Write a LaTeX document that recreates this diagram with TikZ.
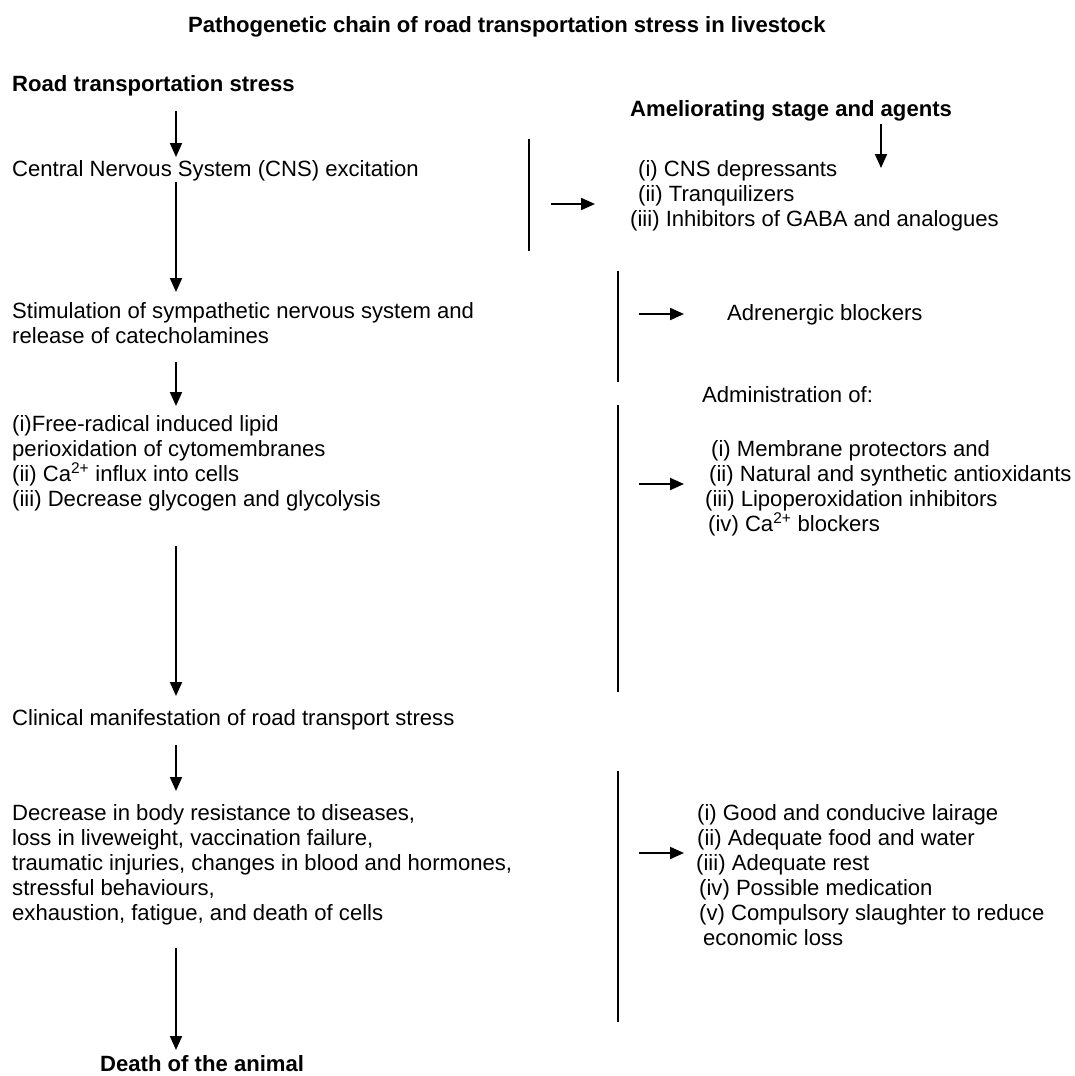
\documentclass[tikz,border=0pt]{standalone}
\usepackage{fontspec}
\setmainfont{Liberation Sans}
\usetikzlibrary{arrows.meta}
\begin{document}
\begin{tikzpicture}[x=1pt,y=-1pt,
  txt/.style={anchor=base west, inner sep=0pt, font=\fontsize{22.1}{25}\selectfont},
  btxt/.style={anchor=base west, inner sep=0pt, font=\fontsize{22.1}{25}\selectfont\bfseries},
  flow/.style={line width=2pt, -{Triangle[length=14pt,width=12pt]}},
  bar/.style={line width=1.7pt}]
\useasboundingbox[fill=white] (0,0) rectangle (1074,1076);

% title
\node[btxt] (title) at (188,32) {Pathogenetic chain of road transportation stress in livestock};

% left chain
\node[btxt] (road) at (12,91) {Road transportation stress};
\node[txt] (cns) at (12,176) {Central Nervous System (CNS) excitation};
\node[txt] (sym1) at (12,318) {Stimulation of sympathetic nervous system and};
\node[txt] (sym2) at (12,343) {release of catecholamines};
\node[txt] (fr1) at (12,431) {(i)Free-radical induced lipid};
\node[txt] (fr2) at (12,456) {perioxidation of cytomembranes};
\node[txt] (fr3) at (12,481) {(ii) Ca\textsuperscript{2+} influx into cells};
\node[txt] (fr4) at (12,506) {(iii) Decrease glycogen and glycolysis};
\node[txt] (clin) at (12,725) {Clinical manifestation of road transport stress};
\node[txt] (dec1) at (12,820) {Decrease in body resistance to diseases,};
\node[txt] (dec2) at (12,845) {loss in liveweight, vaccination failure,};
\node[txt] (dec3) at (12,870) {traumatic injuries, changes in blood and hormones,};
\node[txt] (dec4) at (12,895) {stressful behaviours,};
\node[txt] (dec5) at (12,920) {exhaustion, fatigue, and death of cells};
\node[btxt] (death) at (100,1071) {Death of the animal};

% right column
\node[btxt] (amel) at (630,116) {Ameliorating stage and agents};
\node[txt] (r1a) at (638,176) {(i) CNS depressants};
\node[txt] (r1b) at (638,201) {(ii) Tranquilizers};
\node[txt] (r1c) at (630,226) {(iii) Inhibitors of GABA and analogues};
\node[txt] (adr) at (727,320) {Adrenergic blockers};
\node[txt] (adm) at (702,402) {Administration of:};
\node[txt] (r3a) at (711,456) {(i) Membrane protectors and};
\node[txt] (r3b) at (709,481) {(ii) Natural and synthetic antioxidants};
\node[txt] (r3c) at (705,506) {(iii) Lipoperoxidation inhibitors};
\node[txt] (r3d) at (708,531) {(iv) Ca\textsuperscript{2+} blockers};
\node[txt] (r4a) at (697,820) {(i) Good and conducive lairage};
\node[txt] (r4b) at (697,845) {(ii) Adequate food and water};
\node[txt] (r4c) at (696,870) {(iii) Adequate rest};
\node[txt] (r4d) at (699,895) {(iv) Possible medication};
\node[txt] (r4e) at (699,920) {(v) Compulsory slaughter to reduce};
\node[txt] (r4f) at (703,945) {economic loss};

% down arrows of the chain
\coordinate (d1s) at (176,111); \coordinate (d1e) at (176,157);
\coordinate (d2s) at (176,182); \coordinate (d2e) at (176,292);
\coordinate (d3s) at (176,362); \coordinate (d3e) at (176,406);
\coordinate (d4s) at (176,546); \coordinate (d4e) at (176,696);
\coordinate (d5s) at (176,745); \coordinate (d5e) at (176,791);
\coordinate (d6s) at (176,948); \coordinate (d6e) at (176,1050);
\draw[flow] (d1s) -- (d1e);
\draw[flow] (d2s) -- (d2e);
\draw[flow] (d3s) -- (d3e);
\draw[flow] (d4s) -- (d4e);
\draw[flow] (d5s) -- (d5e);
\draw[flow] (d6s) -- (d6e);

% ameliorating down arrow
\coordinate (ams) at (881,124); \coordinate (ame) at (881,168);
\draw[flow] (ams) -- (ame);

% separator bars
\coordinate (b1s) at (529,139); \coordinate (b1e) at (529,251);
\coordinate (b2s) at (618,271); \coordinate (b2e) at (618,382);
\coordinate (b3s) at (618,405); \coordinate (b3e) at (618,692);
\coordinate (b4s) at (618,771); \coordinate (b4e) at (618,1022);
\draw[bar] (b1s) -- (b1e);
\draw[bar] (b2s) -- (b2e);
\draw[bar] (b3s) -- (b3e);
\draw[bar] (b4s) -- (b4e);

% right arrows
\coordinate (h1s) at (551,204); \coordinate (h1e) at (595,204);
\coordinate (h2s) at (639,314); \coordinate (h2e) at (684,314);
\coordinate (h3s) at (639,484); \coordinate (h3e) at (684,484);
\coordinate (h4s) at (639,853); \coordinate (h4e) at (684,853);
\draw[flow] (h1s) -- (h1e);
\draw[flow] (h2s) -- (h2e);
\draw[flow] (h3s) -- (h3e);
\draw[flow] (h4s) -- (h4e);
\end{tikzpicture}
\end{document}
